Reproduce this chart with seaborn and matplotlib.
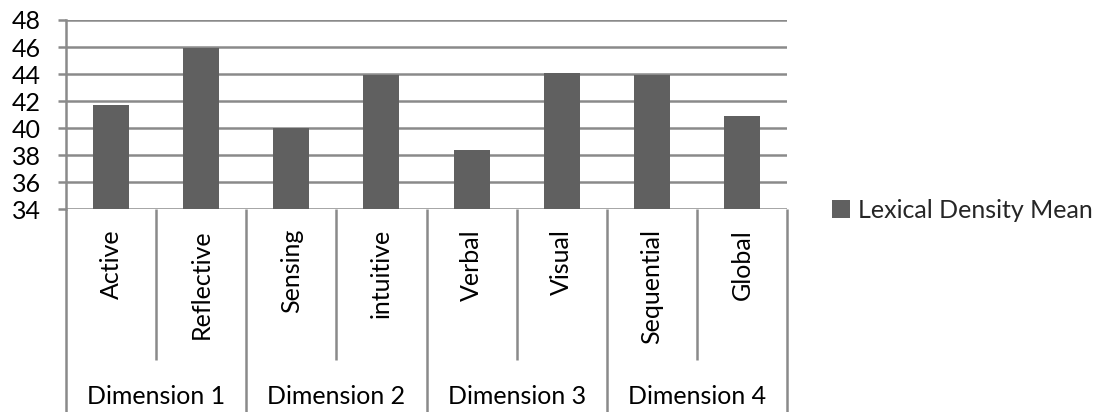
import matplotlib
matplotlib.use("Agg")
import matplotlib.pyplot as plt
import seaborn as sns
import pandas as pd
from matplotlib.patches import Patch
from matplotlib.transforms import blended_transform_factory

# Learning style categories and their lexical density means
styles = ["Active", "Reflective", "Sensing", "intuitive",
          "Verbal", "Visual", "Sequential", "Global"]
dimensions = ["Dimension 1", "Dimension 2", "Dimension 3", "Dimension 4"]
lexical_density_mean = [41.7, 45.9, 40.0, 43.9, 38.4, 44.1, 43.9, 40.9]
y_ticks = [34, 36, 38, 40, 42, 44, 46, 48]
series_name = "Lexical Density Mean"

df = pd.DataFrame({"style": styles, "value": lexical_density_mean})

sns.set_theme(style="white")
plt.rcParams["font.family"] = ["Lato", "DejaVu Sans"]

BAR = "#606060"
GRID = "#8a8a8a"
FS = 18

fig = plt.figure(figsize=(10.97, 4.12), dpi=100)
ax = fig.add_axes([66 / 1097, 1 - 209.3 / 412, (787 - 66) / 1097, (209.3 - 20) / 412])

sns.barplot(data=df, x="style", y="value", color=BAR, saturation=1,
            width=0.4, linewidth=0, ax=ax, zorder=3)

ax.set_ylim(y_ticks[0], y_ticks[-1])
ax.set_yticks(y_ticks)
ax.set_xlim(-0.5, len(styles) - 0.5)
ax.set_xticks([])
ax.set_xlabel("")
ax.set_ylabel("")
for y in y_ticks:
    ax.axhline(y, color=GRID, lw=1.8, zorder=1)

for side in ["top", "right", "bottom"]:
    ax.spines[side].set_visible(False)
ax.spines["left"].set_color(GRID)
ax.spines["left"].set_linewidth(1.8)
ax.tick_params(axis="y", which="major", left=True, length=6, width=1.8,
               color=GRID, labelsize=FS, pad=12, labelcolor="black")

# Two-level category axis drawn below the plot area
trans = blended_transform_factory(ax.transData, fig.transFigure)
y_axis = 1 - 209.3 / 412
y_inner = 1 - 360 / 412
y_bottom = 0.0
n = len(styles)
per_group = n // len(dimensions)
for i in range(n + 1):
    xb = i - 0.5
    y_end = y_bottom if i % per_group == 0 else y_inner
    ax.plot([xb, xb], [y_axis, y_end], color=GRID, lw=1.8,
            transform=trans, clip_on=False, solid_capstyle="butt")

for i, name in enumerate(styles):
    ax.text(i, 1 - 229 / 412, name, transform=trans, rotation=90,
            ha="center", va="top", fontsize=FS, color="black")

for g, name in enumerate(dimensions):
    xc = g * per_group + (per_group - 1) / 2
    ax.text(xc, 1 - 396 / 412, name, transform=trans,
            ha="center", va="center", fontsize=FS, color="black")

handle = Patch(facecolor=BAR, edgecolor="none")
fig.legend([handle], [series_name], loc="center left",
           bbox_to_anchor=(832 / 1097, 1 - 210 / 412), frameon=False,
           fontsize=FS, handlelength=0.72, handleheight=0.72,
           handletextpad=0.3, borderpad=0, borderaxespad=0)

fig.savefig("out.png", dpi=100)
